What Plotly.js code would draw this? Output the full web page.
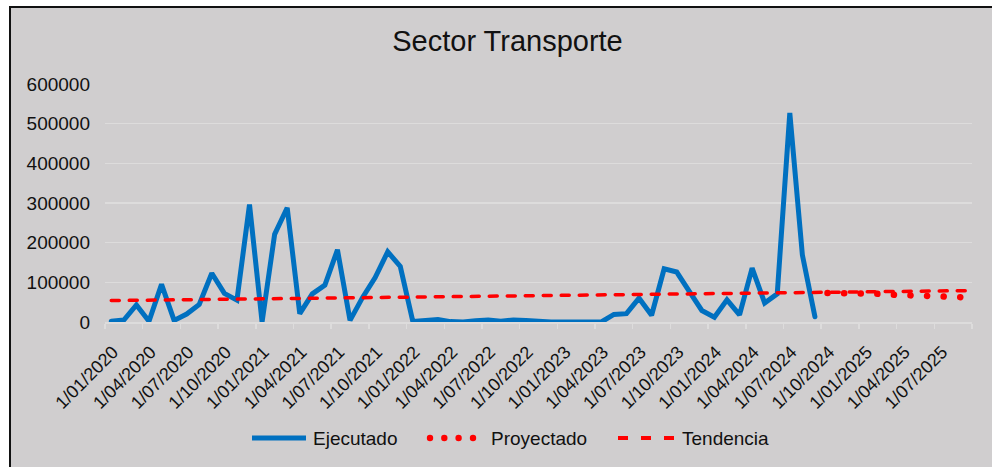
<!DOCTYPE html>
<html>
<head>
<meta charset="utf-8">
<script src="https://cdn.plot.ly/plotly-3.0.1.min.js"></script>
<style>
  html, body { margin: 0; padding: 0; background: #ffffff; overflow: hidden; }
  #frame { position: absolute; left: 9px; top: 6px; width: 1000px; height: 480px;
           border-left: 2px solid #111; border-top: 2px solid #111; background: #d0cecf; }
  #chart { position: absolute; left: 0; top: 0; width: 992px; height: 467px; }
  .js-plotly-plot .scatterlayer .js-line { stroke-linecap: round !important; }
</style>
</head>
<body>
<div id="frame"></div>
<div id="chart"></div>
<script>
// ---- DATA ----
const months = [
  "2020-01","2020-02","2020-03","2020-04","2020-05","2020-06","2020-07","2020-08","2020-09","2020-10","2020-11","2020-12",
  "2021-01","2021-02","2021-03","2021-04","2021-05","2021-06","2021-07","2021-08","2021-09","2021-10","2021-11","2021-12",
  "2022-01","2022-02","2022-03","2022-04","2022-05","2022-06","2022-07","2022-08","2022-09","2022-10","2022-11","2022-12",
  "2023-01","2023-02","2023-03","2023-04","2023-05","2023-06","2023-07","2023-08","2023-09","2023-10","2023-11","2023-12",
  "2024-01","2024-02","2024-03","2024-04","2024-05","2024-06","2024-07","2024-08","2024-09","2024-10","2024-11","2024-12",
  "2025-01","2025-02","2025-03","2025-04","2025-05","2025-06","2025-07","2025-08","2025-09"
];
const ejecutadoMonths = months.slice(0, 57);
const ejecutado = [
  2000, 5000, 43000, 2000, 95000, 4000, 20000, 44000, 123000, 72000, 55000, 296000,
  0, 221000, 288000, 21000, 71000, 93000, 182000, 4000, 62000, 112000, 177000, 140000,
  1000, 2000, 6000, 1000, 0, 3000, 5000, 2000, 5000, 4000, 1000, 0,
  0, 0, 0, 0, 19000, 21000, 60000, 17000, 134000, 126000, 77000, 29000,
  12000, 56000, 18000, 136000, 48000, 71000, 527000, 169000, 13000
];
const proyectadoMonths = months.slice(57);
const proyectado = [73000, 73000, 74000, 73000, 71000, 69000, 68000, 67000, 65000, 64000, 63000, 62000];
const tendenciaMonths = ["2020-01", "2025-09"];
const tendencia = [54000, 79000];
const tickLabels = [
  "1/01/2020","1/04/2020","1/07/2020","1/10/2020","1/01/2021","1/04/2021","1/07/2021","1/10/2021",
  "1/01/2022","1/04/2022","1/07/2022","1/10/2022","1/01/2023","1/04/2023","1/07/2023","1/10/2023",
  "1/01/2024","1/04/2024","1/07/2024","1/10/2024","1/01/2025","1/04/2025","1/07/2025"
];
const seriesNames = ["Ejecutado", "Proyectado", "Tendencia"];
const chartTitle = "Sector Transporte";

// ---- helpers ----
const idx = m => months.indexOf(m);
const tickStarts = tickLabels.map(l => { const p = l.split("/"); return idx(p[2] + "-" + p[1]); });
const tickVals = tickStarts.map(i => i - 0.5).concat([months.length - 0.5]);
const tickText = tickLabels.concat([""]);

const L = 105, R = 20, T = 84, B = 145, W = 992, H = 467;
const PW = W - L - R, PH = H - T - B;
const px = X => (X - L) / PW;
const py = Y => (H - B - Y) / PH;

const BLUE = "#0070C0", RED = "#FF0000", TXT = "#111111", GRID = "#dddcdc";

const traces = [
  { x: ejecutadoMonths.map(idx), y: ejecutado, name: seriesNames[0], type: "scatter", mode: "lines",
    line: { color: BLUE, width: 5 }, hoverinfo: "skip" },
  { x: proyectadoMonths.map(idx), y: proyectado, name: seriesNames[1], type: "scatter", mode: "lines",
    line: { color: RED, width: 6.5, dash: "0.1px,16.5px" }, hoverinfo: "skip" },
  { x: tendenciaMonths.map(idx), y: tendencia, name: seriesNames[2], type: "scatter", mode: "lines",
    line: { color: RED, width: 3.5, dash: "8px,10px" }, hoverinfo: "skip" }
];

// custom legend
const LY = 438;
const shapes = [
  { type: "line", xref: "paper", yref: "paper", x0: px(252), x1: px(306), y0: py(LY), y1: py(LY),
    line: { color: BLUE, width: 5 } },
  { type: "line", xref: "paper", yref: "paper", x0: px(618), x1: px(674), y0: py(LY), y1: py(LY),
    line: { color: RED, width: 4, dash: "10px,13px" } }
];
[430, 444.3, 458.6, 473].forEach(cx => {
  shapes.push({ type: "circle", xref: "paper", yref: "paper",
    x0: px(cx - 3.2), x1: px(cx + 3.2), y0: py(LY + 3.2), y1: py(LY - 3.2),
    fillcolor: RED, line: { width: 0 } });
});
const legendFont = { family: "Liberation Sans, Arial, sans-serif", size: 19, color: TXT };
const annotations = [
  { text: seriesNames[0], x: px(311), xanchor: "left" },
  { text: seriesNames[1], x: px(489), xanchor: "left" },
  { text: seriesNames[2], x: px(680), xanchor: "left" }
].map(a => Object.assign(a, { xref: "paper", yref: "paper", y: py(LY), yanchor: "middle",
  showarrow: false, font: legendFont }));

const layout = {
  width: W, height: H,
  margin: { l: L, r: R, t: T, b: B, pad: 0 },
  paper_bgcolor: "rgba(0,0,0,0)",
  plot_bgcolor: "rgba(0,0,0,0)",
  showlegend: false,
  font: { family: "Liberation Sans, Arial, sans-serif", color: TXT },
  title: { text: chartTitle, xref: "container", yref: "container",
           x: 507.5 / W, xanchor: "center", y: 1 - 41 / H, yanchor: "middle",
           font: { size: 29, color: TXT, family: "Liberation Sans, Arial, sans-serif" } },
  xaxis: {
    type: "linear", range: [-0.5, months.length - 0.5], fixedrange: true,
    tickmode: "array", tickvals: tickVals, ticktext: tickText, tickangle: -45,
    ticks: "outside", ticklen: 5, tickwidth: 1.5, tickcolor: GRID,
    ticklabelshift: 8, ticklabelstandoff: 6,
    showline: true, linecolor: GRID, linewidth: 1.5,
    showgrid: false, zeroline: false,
    tickfont: { size: 18, color: TXT }
  },
  yaxis: {
    range: [0, 600000], fixedrange: true, tickmode: "linear", tick0: 0, dtick: 100000,
    showgrid: true, gridcolor: GRID, gridwidth: 1.5, zeroline: false, showline: false,
    ticks: "", ticklabelstandoff: 14,
    tickfont: { size: 19, color: TXT }, tickformat: "d"
  },
  shapes: shapes,
  annotations: annotations
};

Plotly.newPlot("chart", traces, layout, { staticPlot: true, displayModeBar: false });
</script>
</body>
</html>
